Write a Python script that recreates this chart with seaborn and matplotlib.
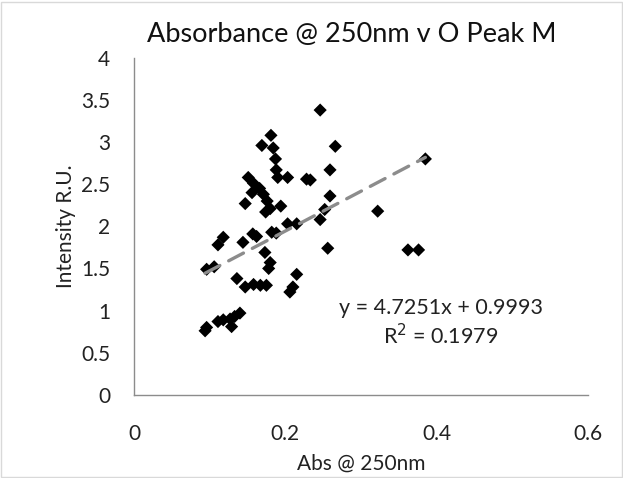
import numpy as np
import pandas as pd
import matplotlib
matplotlib.use("Agg")
import matplotlib.pyplot as plt
import seaborn as sns

# values
abs_250 = [0.246, 0.181, 0.169, 0.184, 0.187, 0.188, 0.190, 0.203, 0.228, 0.151,
           0.158, 0.166, 0.156, 0.171, 0.147, 0.176, 0.180, 0.194, 0.174, 0.246,
           0.252, 0.259, 0.259, 0.266, 0.215, 0.203, 0.322, 0.385, 0.362, 0.376,
           0.256, 0.118, 0.111, 0.157, 0.162, 0.144, 0.182, 0.188, 0.173, 0.180,
           0.096, 0.106, 0.215, 0.210, 0.206, 0.136, 0.147, 0.158, 0.167, 0.175,
           0.140, 0.133, 0.127, 0.118, 0.111, 0.129, 0.096, 0.094, 0.178, 0.233]
intensity = [3.38, 3.08, 2.96, 2.93, 2.80, 2.67, 2.58, 2.58, 2.56, 2.58,
             2.51, 2.45, 2.40, 2.38, 2.27, 2.30, 2.21, 2.24, 2.17, 2.08,
             2.20, 2.36, 2.67, 2.95, 2.03, 2.03, 2.18, 2.80, 1.72, 1.72,
             1.74, 1.87, 1.78, 1.91, 1.88, 1.81, 1.93, 1.92, 1.69, 1.57,
             1.49, 1.52, 1.43, 1.28, 1.22, 1.38, 1.28, 1.31, 1.30, 1.30,
             0.97, 0.93, 0.90, 0.89, 0.87, 0.81, 0.80, 0.76, 1.50, 2.55]

# trendline from the chart's equation label
slope = 4.7251
intercept = 0.9993
r_squared = 0.1979

x_ticks = [0, 0.2, 0.4, 0.6]
y_ticks = [0, 0.5, 1, 1.5, 2, 2.5, 3, 3.5, 4]

df = pd.DataFrame({"Abs": abs_250, "Intensity": intensity})

sns.set_style("white")
plt.rcParams["font.family"] = ["Lato", "DejaVu Sans"]

fig = plt.figure(figsize=(6.23, 4.78), dpi=100)
ax = fig.add_axes([0.215, 0.174, 0.729, 0.705])

sns.scatterplot(data=df, x="Abs", y="Intensity", marker="D", color="black",
                s=45, edgecolor="none", ax=ax, zorder=3)

# linear trendline over the data range
line_x = np.array([df["Abs"].min(), df["Abs"].max()])
line_df = pd.DataFrame({"Abs": line_x, "Intensity": slope * line_x + intercept})
sns.lineplot(data=line_df, x="Abs", y="Intensity", color="#8c8c8c", lw=2.4,
             ax=ax, zorder=4, dashes=False)
ax.lines[-1].set_dashes([5, 3])
ax.lines[-1].set_dash_capstyle("round")

ax.set_xlim(0, 0.6)
ax.set_ylim(0, 4)
ax.set_xticks(x_ticks)
ax.set_xticklabels(["0", "0.2", "0.4", "0.6"])
ax.set_yticks(y_ticks)
ax.set_yticklabels(["0", "0.5", "1", "1.5", "2", "2.5", "3", "3.5", "4"])
ax.tick_params(length=0, labelsize=15, colors="#222222")
ax.tick_params(axis="x", pad=21)
ax.tick_params(axis="y", pad=17)

for side in ["top", "right"]:
    ax.spines[side].set_visible(False)
for side in ["left", "bottom"]:
    ax.spines[side].set_color("#8c8c8c")
    ax.spines[side].set_linewidth(1.0)

ax.set_xlabel("Abs @ 250nm", fontsize=15, color="#222222", labelpad=7)
ax.set_ylabel("Intensity R.U.", fontsize=15, color="#222222", labelpad=4)
fig.text(0.565, 0.927, "Absorbance @ 250nm v O Peak M", ha="center", va="center",
         fontsize=19.5, color="#111111")

ax.text(0.405, 1.03, f"y = {slope}x + {intercept}", ha="center", va="center",
        fontsize=15.5, color="#222222")
ax.text(0.405, 0.70, f"R$^2$ = {r_squared}", ha="center", va="center",
        fontsize=15.5, color="#222222")

fig.patches.append(plt.Rectangle((0.002, 0.002), 0.996, 0.994, transform=fig.transFigure,
                                 fill=False, edgecolor="#d9d9d9", lw=1))

fig.savefig("out.png", dpi=100)
